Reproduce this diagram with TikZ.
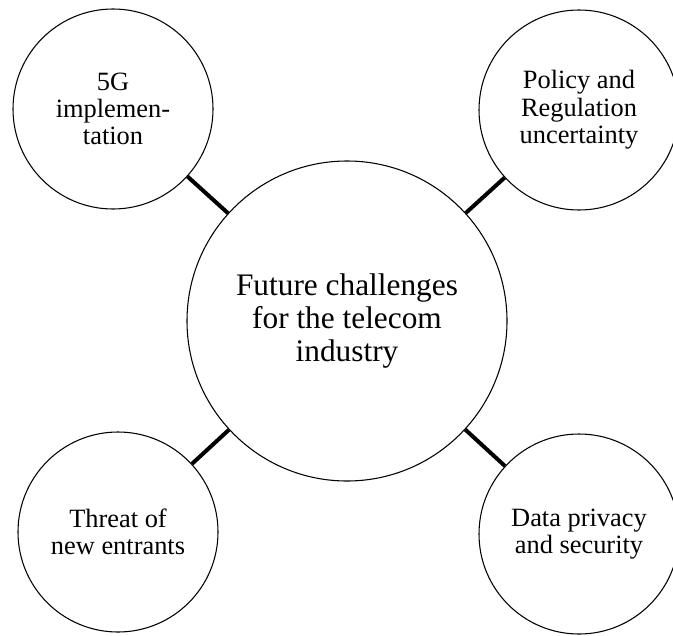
\documentclass[tikz,border=0pt]{standalone}
\usepackage{fontspec}
\setmainfont{Liberation Serif}
\usetikzlibrary{positioning}

\begin{document}
\begin{tikzpicture}[
      x=0.75pt, y=-0.75pt,
      hub/.style={draw, circle, thick, align=center, inner sep=0pt,
                  minimum size=240pt, font=\fontsize{23.5}{25}\selectfont},
      topic/.style={draw, circle, thick, align=center, inner sep=0pt,
                    minimum size=150pt, font=\fontsize{19.8}{20.5}\selectfont},
      link/.style={line width=3pt}
    ]
    \useasboundingbox (0,0) rectangle (673,635);

    \node[hub] (hub) at (347,321)
      {Future challenges\\for the telecom\\industry};

    \node[topic] (fiveg) at (113,109) {5G\\implemen-\\tation};
    \node[topic] (policy) at (579,110) {Policy and\\Regulation\\uncertainty};
    \node[topic] (entrants) at (118,532) {Threat of\\new entrants};
    \node[topic] (privacy) at (579,534) {Data privacy\\and security};

    \draw[link] (hub) -- (fiveg);
    \draw[link] (hub) -- (policy);
    \draw[link] (hub) -- (entrants);
    \draw[link] (hub) -- (privacy);
  \end{tikzpicture}
\end{document}
